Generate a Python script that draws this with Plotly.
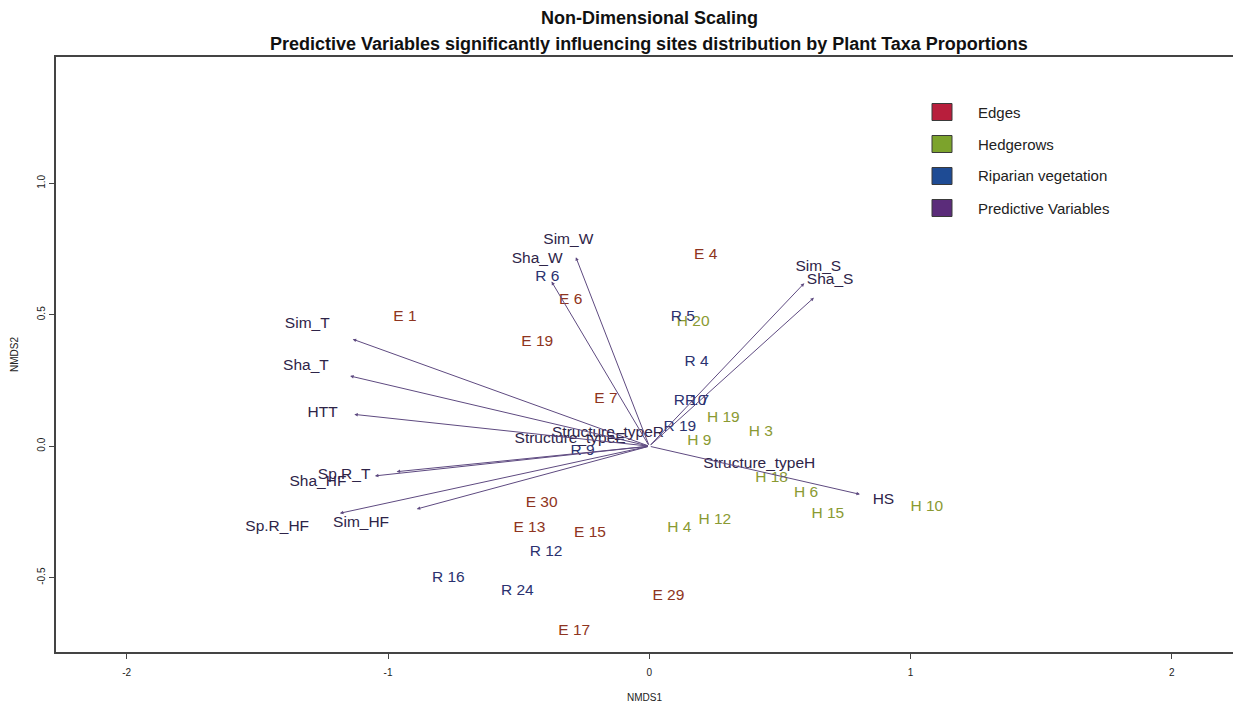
import plotly.graph_objects as go

# ---------------- data ----------------
edge_labels = ["E 1", "E 4", "E 6", "E 7", "E 13", "E 15", "E 17", "E 19", "E 29", "E 30"]
edge_x = [-0.935, 0.216, -0.301, -0.166, -0.459, -0.227, -0.287, -0.429, 0.073, -0.412]
edge_y = [0.490, 0.727, 0.556, 0.180, -0.310, -0.331, -0.702, 0.394, -0.570, -0.217]

hedge_labels = ["H 3", "H 4", "H 6", "H 9", "H 10", "H 12", "H 15", "H 18", "H 19", "H 20"]
hedge_x = [0.427, 0.115, 0.600, 0.191, 1.062, 0.251, 0.683, 0.468, 0.283, 0.168]
hedge_y = [0.055, -0.312, -0.179, 0.020, -0.230, -0.283, -0.258, -0.122, 0.108, 0.471]

rip_labels = ["R 4", "R 5", "R 6", "R 7", "R 9", "R 10", "R 12", "R 16", "R 19", "R 24"]
rip_x = [0.181, 0.128, -0.390, 0.183, -0.255, 0.156, -0.395, -0.769, 0.117, -0.505]
rip_y = [0.319, 0.490, 0.642, 0.172, -0.017, 0.172, -0.404, -0.501, 0.074, -0.552]

var_names = ["Sim_W", "Sha_W", "Sim_T", "Sha_T", "HTT", "Sp.R_T", "Sha_HF",
             "Sp.R_HF", "Sim_HF", "Sim_S", "Sha_S", "HS"]
var_tip_x = [-0.281, -0.374, -1.135, -1.145, -1.129, -1.050, -0.967,
             -1.184, -0.890, 0.593, 0.630, 0.806]
var_tip_y = [0.719, 0.626, 0.407, 0.267, 0.121, -0.113, -0.097,
             -0.255, -0.239, 0.620, 0.565, -0.183]
var_lab_x = [-0.310, -0.429, -1.309, -1.314, -1.250, -1.168, -1.268,
             -1.424, -1.103, 0.647, 0.692, 0.896]
var_lab_y = [0.782, 0.711, 0.465, 0.306, 0.127, -0.110, -0.135,
             -0.306, -0.293, 0.680, 0.630, -0.205]

factor_names = ["Structure_typeE", "Structure_typeR", "Structure_typeH"]
factor_x = [-0.303, -0.158, 0.421]
factor_y = [0.027, 0.049, -0.069]

legend_names = ["Edges", "Hedgerows", "Riparian vegetation", "Predictive Variables"]
legend_fill = ["#B81E3C", "#7CA32C", "#1E4B94", "#5B2C7A"]

x_ticks = [-2, -1, 0, 1, 2]
x_tick_text = ["-2", "-1", "0", "1", "2"]
y_ticks = [-0.5, 0.0, 0.5, 1.0]
y_tick_text = ["-0.5", "0.0", "0.5", "1.0"]

title_line1 = "Non-Dimensional Scaling"
title_line2 = "Predictive Variables significantly influencing sites distribution by Plant Taxa Proportions"

# ---------------- styling ----------------
FONT = "Liberation Sans, Arial, Helvetica, sans-serif"
W, H = 1233, 704
ML, MR, MT, MB = 56, 0, 57, 52
PW, PH = W - ML - MR, H - MT - MB

COL_E = "#8E3420"
COL_H = "#8A9A32"
COL_R = "#2B3270"
COL_V = "#2E2448"
COL_ARROW = "#5E4A80"
LAB_SIZE = 15.5


def px2paper_x(px):
    return (px - ML) / PW


def px2paper_y(py):
    return (H - MB - py) / PH


fig = go.Figure()

# arrows from origin to each predictive variable (drawn via data coordinates)
annotations = []
for tx, ty in zip(var_tip_x, var_tip_y):
    annotations.append(dict(
        x=tx, y=ty, ax=0, ay=0, xref="x", yref="y", axref="x", ayref="y",
        text="", showarrow=True, arrowhead=2, arrowsize=0.7, arrowwidth=1,
        arrowcolor=COL_ARROW, standoff=0, startstandoff=0,
    ))

# text-only traces
def text_trace(xs, ys, labels, color, name):
    return go.Scatter(
        x=xs, y=ys, text=labels, mode="text", name=name,
        textposition="middle center",
        textfont=dict(family=FONT, size=LAB_SIZE, color=color),
        hoverinfo="text", showlegend=False,
    )

fig.add_trace(text_trace(factor_x, factor_y, factor_names, COL_V, "Factors"))
fig.add_trace(text_trace(var_lab_x, var_lab_y, var_names, COL_V, "Predictive Variables"))
fig.add_trace(text_trace(edge_x, edge_y, edge_labels, COL_E, "Edges"))
fig.add_trace(text_trace(hedge_x, hedge_y, hedge_labels, COL_H, "Hedgerows"))
fig.add_trace(text_trace(rip_x, rip_y, rip_labels, COL_R, "Riparian vegetation"))

# titles
annotations.append(dict(
    x=px2paper_x(649), y=px2paper_y(18), xref="paper", yref="paper",
    text="<b>" + title_line1 + "</b>", showarrow=False,
    xanchor="center", yanchor="middle",
    font=dict(family=FONT, size=18, color="#111111"),
))
annotations.append(dict(
    x=px2paper_x(649), y=px2paper_y(44), xref="paper", yref="paper",
    text="<b>" + title_line2 + "</b>", showarrow=False,
    xanchor="center", yanchor="middle",
    font=dict(family=FONT, size=18, color="#111111"),
))

# manual legend
shapes = []
legend_rows_py = [112, 144, 176, 208]
for name, fill, py in zip(legend_names, legend_fill, legend_rows_py):
    shapes.append(dict(
        type="rect", xref="paper", yref="paper",
        xsizemode="pixel", ysizemode="pixel",
        xanchor=px2paper_x(942), yanchor=px2paper_y(py),
        x0=-10, x1=10, y0=-8.5, y1=8.5,
        fillcolor=fill, line=dict(color="#3a3a3a", width=1),
    ))
    annotations.append(dict(
        x=px2paper_x(976), y=px2paper_y(py), xref="paper", yref="paper",
        text=name, showarrow=False, xanchor="left", yanchor="middle",
        font=dict(family=FONT, size=15, color="#222222"),
    ))

x_left = (ML - 649.3) / 261.3
x_right = (W - MR - 649.3) / 261.3
y_bottom = (446.2 - (H - MB)) / 262.9
y_top = (446.2 - MT) / 262.9

fig.update_layout(
    width=W, height=H,
    margin=dict(l=ML, r=MR, t=MT, b=MB, pad=0),
    paper_bgcolor="white", plot_bgcolor="white",
    showlegend=False,
    annotations=annotations,
    shapes=shapes,
    font=dict(family=FONT, color="#222222"),
    xaxis=dict(
        range=[x_left, x_right], showgrid=False, zeroline=False,
        showline=True, linecolor="#444444", linewidth=1.5, mirror=True,
        ticks="outside", ticklen=5, tickcolor="#444444", tickwidth=1,
        tickvals=x_ticks, ticktext=x_tick_text,
        tickfont=dict(family=FONT, size=10, color="#222222"),
        ticklabelstandoff=5,
        title=dict(text="NMDS1", font=dict(family=FONT, size=10, color="#222222"), standoff=17),
    ),
    yaxis=dict(
        range=[y_bottom, y_top], showgrid=False, zeroline=False,
        showline=True, linecolor="#444444", linewidth=1.5, mirror=False,
        ticks="outside", ticklen=5, tickcolor="#444444", tickwidth=1,
        tickvals=y_ticks, ticktext=y_tick_text, tickangle=-90,
        tickfont=dict(family=FONT, size=10, color="#222222"),
        title=dict(text="NMDS2", font=dict(family=FONT, size=10, color="#222222"), standoff=16),
    ),
)

fig.write_html("out.html")
